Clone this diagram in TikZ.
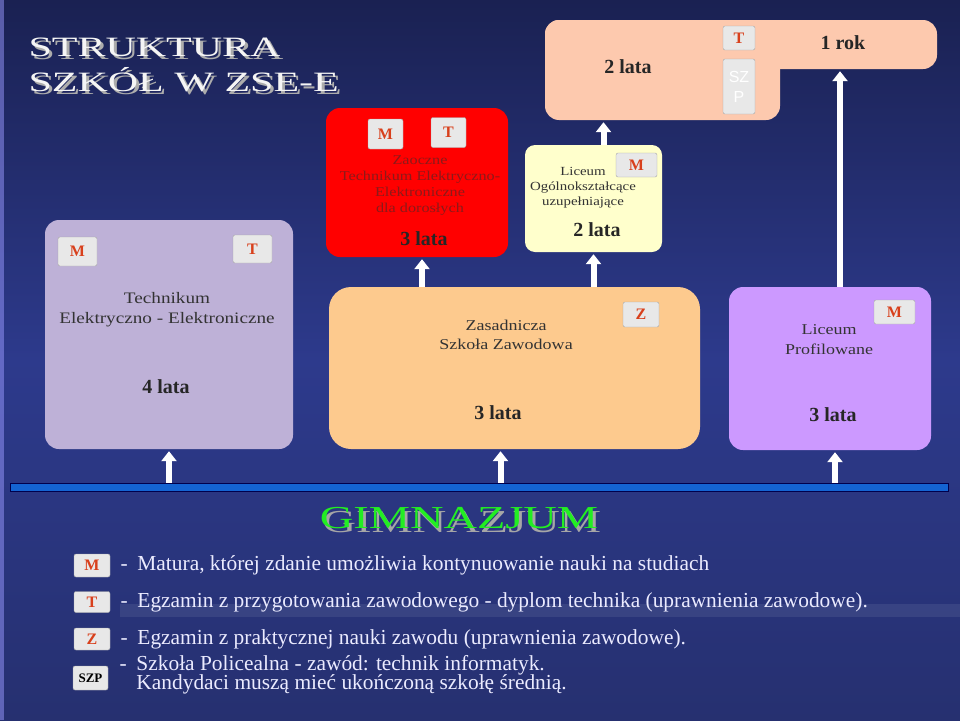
\documentclass[tikz,border=0pt]{standalone}
\usepackage{fontspec}
\setmainfont{Liberation Serif}
\newfontfamily\boxfont{Liberation Serif}[FakeStretch=1.2]
\newfontfamily\badgesans{Liberation Sans}
\usetikzlibrary{arrows.meta, positioning}

\definecolor{bgtop}{HTML}{1A2152}
\definecolor{bgmid}{HTML}{2D3A8C}
\definecolor{bgbot}{HTML}{263070}
\definecolor{techfill}{HTML}{BEB1D7}
\definecolor{zszfill}{HTML}{FDCA8E}
\definecolor{lpfill}{HTML}{CC99FF}
\definecolor{loufill}{HTML}{FFFFCC}
\definecolor{szpfill}{HTML}{FDC9AE}
\definecolor{badgered}{HTML}{D8401C}
\definecolor{darkred}{HTML}{8B1A1A}
\definecolor{barblue}{HTML}{1464D2}
\definecolor{gimgreen}{HTML}{22EE22}

% text with a drop shadow: #1 dx, #2 dy, #3 shadow colour, #4 text
\newcommand{\shadowed}[4]{\makebox[0pt][l]{\hspace{#1}\raisebox{-#2}{\textcolor{#3}{#4}}}#4}

\begin{document}
\begin{tikzpicture}[x=1pt, y=-1pt,
    school/.style={rounded corners=14pt, inner sep=0pt},
    badge/.style={draw=gray!70, fill=gray!18, rounded corners=2pt, inner sep=0pt,
        minimum width=36pt, minimum height=25pt, text=badgered,
        font=\fontsize{16}{16}\selectfont\bfseries},
    years/.style={font=\fontsize{20}{20}\selectfont\bfseries, text=black!85},
    schoolname/.style={font=\boxfont\fontsize{15}{19.5}\selectfont, align=center, text=black!80},
    blockarrow/.style={draw=white, line width=6pt, shorten >=2pt,
        -{Triangle[width=15pt,length=10pt]}},
    legend/.style={anchor=west, text=white!92!blue, align=left,
        font=\fontsize{21.4}{19.5}\selectfont}]

    % Background
    \useasboundingbox (0,0) rectangle (960,720);
    \shade[top color=bgtop, bottom color=bgbot, middle color=bgmid] (0,0) rectangle (960,720);
    \fill[white, opacity=0.08] (120,604) rectangle (960,617);
    \fill[blue!40!white, opacity=0.5] (0,0) rectangle (4,720);

    % Title
    \node[anchor=base west, text=gray!8, font=\fontsize{28}{28}\selectfont] (title1) at (25,56)
        {\scalebox{1.5}[1]{\shadowed{2pt}{3pt}{gray!65}{STRUKTURA}}};
    \node[anchor=base west, text=gray!8, font=\fontsize{28}{28}\selectfont] (title2) at (25,91)
        {\scalebox{1.5}[1]{\shadowed{2pt}{3pt}{gray!65}{SZKÓŁ W ZSE-E}}};

    % Szkola policealna
    \node[school, fill=szpfill, minimum width=392pt, minimum height=49pt] (szp) at (741,44.5) {};
    \node[school, fill=szpfill, minimum width=235pt, minimum height=100pt] (szpl) at (662.5,70) {};
    \node[years] (szpY2) at (628,67) {2 lata};
    \node[years] (szpY1) at (843,43) {1 rok};
    \node[badge, minimum width=32pt, minimum height=24pt] (szpT) at (739,38) {T};
    \node[badge, minimum width=32pt, minimum height=55pt, text=white, align=center,
        font=\badgesans\fontsize{16}{20}\selectfont] (szpS) at (739,86.5) {SZ\\P};

    % Zaoczne technikum
    \node[school, fill=red, minimum width=182pt, minimum height=149pt] (zt) at (417,182.5) {};
    \node[badge, minimum width=35pt, minimum height=30pt] (ztM) at (385.5,134) {M};
    \node[badge, minimum width=35pt, minimum height=30pt] (ztT) at (448.5,132.5) {T};
    \node[schoolname, text=darkred, font=\boxfont\fontsize{13.5}{16}\selectfont] (ztN) at (420,186)
        {Zaoczne\\Technikum Elektryczno-\\Elektroniczne\\dla dorosłych};
    \node[years] (ztY) at (424,239) {3 lata};

    % Liceum uzupelniajace
    \node[school, rounded corners=10pt, fill=loufill, minimum width=137pt, minimum height=107pt] (lou) at (593.5,198.5) {};
    \node[badge, minimum width=41pt, minimum height=24pt] (louM) at (636.5,165) {M};
    \node[schoolname, font=\boxfont\fontsize{12.4}{15}\selectfont] (louN) at (583,188)
        {Liceum\\Ogólnokształcące\\uzupełniające};
    \node[years] (louY) at (597,230) {2 lata};

    % Technikum
    \node[school, fill=techfill, minimum width=248pt, minimum height=229pt] (tech) at (169,334.5) {};
    \node[badge, minimum width=39pt, minimum height=29pt] (techM) at (77.5,251.5) {M};
    \node[badge, minimum width=39pt, minimum height=28pt] (techT) at (252.5,249) {T};
    \node[schoolname, font=\boxfont\fontsize{16}{20}\selectfont] (techN) at (167,310)
        {Technikum\\Elektryczno - Elektroniczne};
    \node[years] (techY) at (166,387) {4 lata};

    % Zasadnicza szkola zawodowa
    \node[school, rounded corners=22pt, fill=zszfill, minimum width=371pt, minimum height=162pt] (zsz) at (514.5,368) {};
    \node[badge] (zszZ) at (641,314.5) {Z};
    \node[schoolname] (zszN) at (506,335) {Zasadnicza\\Szkoła Zawodowa};
    \node[years] (zszY) at (498,413) {3 lata};

    % Liceum profilowane
    \node[school, fill=lpfill, minimum width=202pt, minimum height=163pt] (lp) at (830,368.5) {};
    \node[badge, minimum width=41pt, minimum height=24pt] (lpM) at (894.5,312) {M};
    \node[schoolname] (lpN) at (829,339.5) {Liceum\\Profilowane};
    \node[years] (lpY) at (833,415) {3 lata};

    % Gimnazjum
    \node[draw=black!70!blue, fill=barblue, inner sep=0pt, minimum width=938pt, minimum height=8pt] (gim) at (479,487) {};
    \node[anchor=base, text=gimgreen, font=\fontsize{32}{32}\selectfont] (gimN) at (459,528)
        {\scalebox{1.45}[1]{\shadowed{2pt}{4pt}{gray!70}{GIMNAZJUM}}};

    % Arrows
    \draw[blockarrow] (gim.north -| tech.south) -- (tech.south);
    \draw[blockarrow] ([xshift=-14]gim.north -| zsz.south) -- ([xshift=-14]zsz.south);
    \draw[blockarrow] ([xshift=5]gim.north -| lp.south) -- ([xshift=5]lp.south);
    \draw[blockarrow] ([xshift=5]zt.south |- zsz.north) -- ([xshift=5]zt.south);
    \draw[blockarrow] (lou.south |- zsz.north) -- (lou.south);
    \draw[blockarrow] ([xshift=10]lou.north) -- ([xshift=10]lou.north |- szpl.south);
    \draw[blockarrow] ([xshift=10]lp.north) -- ([xshift=10]lp.north |- szp.south);

    % Legend
    \node[badge, minimum height=23pt] (legM) at (92,565.5) {M};
    \node[badge, minimum height=21pt] (legT) at (92,602) {T};
    \node[badge, minimum height=22pt] (legZ) at (92,639) {Z};
    \node[badge, minimum width=35pt, minimum height=24pt, text=black,
        font=\fontsize{13}{13}\selectfont\bfseries] (legS) at (90.5,678) {SZP};
    \node[legend, right=7pt of legM] (txtM) {-\hspace{0.45em}Matura, której zdanie umożliwia kontynuowanie nauki na studiach};
    \node[legend, right=7pt of legT] (txtT) {-\hspace{0.45em}Egzamin z przygotowania zawodowego - dyplom technika (uprawnienia zawodowe).};
    \node[legend, right=7pt of legZ] (txtZ) {-\hspace{0.45em}Egzamin z praktycznej nauki zawodu (uprawnienia zawodowe).};
    \node[legend, right=8pt of legS, yshift=3pt] (txtS) {-\hspace{0.45em}Szkoła Policealna - zawód: technik informatyk.\\
        \phantom{-}\hspace{0.45em}Kandydaci muszą mieć ukończoną szkołę średnią.};

\end{tikzpicture}
\end{document}
